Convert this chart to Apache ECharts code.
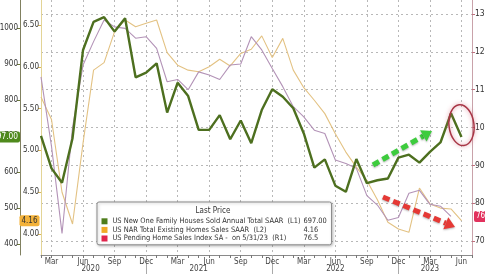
<!DOCTYPE html>
<html><head><meta charset="utf-8">
<script src="https://cdn.jsdelivr.net/npm/echarts@6/dist/echarts.min.js"></script>
<style>html,body{margin:0;padding:0;background:#fff}#c{width:485px;height:274px}</style>
</head><body><div id="c"></div>
<script>
const months = [
 'Feb 2020','Mar 2020','Apr 2020','May 2020','Jun 2020','Jul 2020','Aug 2020','Sep 2020','Oct 2020','Nov 2020','Dec 2020',
 'Jan 2021','Feb 2021','Mar 2021','Apr 2021','May 2021','Jun 2021','Jul 2021','Aug 2021','Sep 2021','Oct 2021','Nov 2021','Dec 2021',
 'Jan 2022','Feb 2022','Mar 2022','Apr 2022','May 2022','Jun 2022','Jul 2022','Aug 2022','Sep 2022','Oct 2022','Nov 2022','Dec 2022',
 'Jan 2023','Feb 2023','Mar 2023','Apr 2023','May 2023','Jun 2023','Jul 2023'];
const newHomes = [700,610,570,694,939,1017,1030,990,1027,863,876,902,765,848,811,717,717,758,691,743,680,772,830,809,777,707,612,635,562,545,636,569,577,582,640,648,626,656,682,763,697];
const existingHomes = [5.64,5.37,4.50,4.12,5.09,5.96,6.05,6.42,6.56,6.48,6.52,6.56,6.17,6.02,5.96,5.94,6.00,6.09,6.01,6.16,6.21,6.37,6.11,6.34,5.96,5.75,5.60,5.44,5.20,4.98,4.80,4.64,4.41,4.14,4.06,4.02,4.55,4.36,4.31,4.30,4.16];
const pendingHomes = [113.4,95,72,100,116.5,122.7,128.4,126.6,126.2,123.6,124.0,120.9,112.1,112.7,110.0,114.7,113.9,112.7,116.5,116.8,124.0,120.5,115.6,110.8,105.5,102.8,99.3,98.4,91.4,90.5,89.2,82,79.5,75.5,76.2,82.6,83.4,79.7,79.2,76.5];
const l1Ticks = [400,500,600,700,800,900,1000];
const l2Ticks = [4.0,4.5,5.0,5.5,6.0,6.5];
const r1Ticks = [70,80,90,100,110,120,130];
const quarterMonths = ['Mar','Jun','Sep','Dec'];
const yearLabels = {'Jul 2020':'2020','May 2021':'2021','Jun 2022':'2022','Mar 2023':'2023'};
const seriesNames = ['US New One Family Houses Sold Annual Total SAAR  (L1)','US NAR Total Existing Homes Sales SAAR  (L2)','US Pending Home Sales Index SA -  on 5/31/23  (R1)'];
const lastValues = ['697.00','4.16','76.5'];
const legendTitle = 'Last Price';

const FONT = '"Liberation Sans Narrow","DejaVu Sans Condensed","Liberation Sans",Arial,sans-serif';
const chart = echarts.init(document.getElementById('c'), null, {renderer:'canvas'});
const isQuarter = (i, v) => quarterMonths.indexOf(String(v).slice(0,3)) >= 0;
const isDec = (i, v) => String(v).slice(0,3) === 'Dec';
const dotted = {color:'#b8b8b8', width:1, type:[2,3]};

const option = {
  animation:false,
  backgroundColor:'#fff',
  textStyle:{fontFamily:FONT},
  grid:{left:41, right:13, top:0, bottom:19, outerBoundsMode:'none', containLabel:false},
  xAxis:[{
    type:'category', data:months, boundaryGap:false, position:'bottom',
    axisLine:{show:true, lineStyle:{color:'#8a8a8a', width:1}},
    axisTick:{show:true, interval:0, length:3, lineStyle:{color:'#777'}},
    axisLabel:{interval:isQuarter, formatter:v=>v.slice(0,3), fontSize:8, color:'#444', margin:3, fontFamily:FONT},
    splitLine:{show:true, interval:isQuarter, lineStyle:dotted}
  },{
    type:'category', data:months, boundaryGap:false, position:'bottom',
    axisLine:{show:false},
    axisTick:{show:true, interval:isDec, length:19, lineStyle:{color:'#aaa'}},
    axisLabel:{interval:(i,v)=>yearLabels[v]!==undefined, formatter:v=>v==='Jul 2020'?'{s|'+yearLabels[v]+'}':yearLabels[v],
      rich:{s:{padding:[0,6,0,0], fontSize:8, color:'#444', fontFamily:FONT}},
      fontSize:8, color:'#444', margin:10, fontFamily:FONT},
    splitLine:{show:false}
  }],
  yAxis:[{
    type:'value', position:'left', offset:21, min:369.4, max:1077.8,
    axisLine:{show:true, lineStyle:{color:'#808060'}},
    axisTick:{show:true, customValues:l1Ticks, length:3, lineStyle:{color:'#6d7a3a'}},
    axisLabel:{customValues:l1Ticks, formatter:v=>String(Math.round(v)), fontSize:8, color:'#333', margin:2, fontFamily:FONT},
    splitLine:{show:false}
  },{
    type:'value', position:'left', offset:0, min:3.749, max:6.799,
    axisLine:{show:true, lineStyle:{color:'#e3d496'}},
    axisTick:{show:true, customValues:l2Ticks, length:3, lineStyle:{color:'#d9b75a'}},
    axisLabel:{customValues:l2Ticks, formatter:v=>Number(v).toFixed(2), fontSize:8, color:'#333', margin:2, fontFamily:FONT},
    splitLine:{show:false}
  },{
    type:'value', position:'right', offset:0, min:66.3, max:133.7,
    axisLine:{show:true, lineStyle:{color:'#c9a2aa'}},
    axisTick:{show:true, customValues:r1Ticks, length:3, lineStyle:{color:'#c0707e'}},
    axisLabel:{customValues:r1Ticks, fontSize:8.5, color:'#333', margin:3, fontFamily:FONT},
    splitLine:{show:true, lineStyle:dotted}
  }],
  legend:{
    show:true, orient:'vertical', left:97, top:202, padding:[15,4,2,4.5],
    itemWidth:6, itemHeight:6, itemGap:0, icon:'rect', selectedMode:false,
    backgroundColor:'#fff', borderColor:'#8c8c8c', borderWidth:1, borderRadius:2,
    shadowBlur:3, shadowColor:'rgba(0,0,0,0.25)', shadowOffsetX:1, shadowOffsetY:1,
    data:[
      {name:seriesNames[0], itemStyle:{color:'#4e7d1c', borderWidth:0}},
      {name:seriesNames[1], itemStyle:{color:'#f1aa27', borderWidth:0}},
      {name:seriesNames[2], itemStyle:{color:'#e0244c', borderWidth:0}}
    ],
    formatter:name=>'{n|'+name+'}{v|'+lastValues[seriesNames.indexOf(name)]+'}',
    textStyle:{fontSize:7.4, color:'#333', fontFamily:FONT, lineHeight:8.6,
      rich:{n:{width:191, fontSize:7.4, color:'#333', fontFamily:FONT, lineHeight:8.6},
            v:{width:24, fontSize:7.4, color:'#333', fontFamily:FONT, lineHeight:8.6}}}
  },
  series:[
    {name:seriesNames[1], type:'line', xAxisIndex:0, yAxisIndex:1, data:existingHomes, showSymbol:false, symbol:'none',
     lineStyle:{color:'#e3c283', width:1.1}, itemStyle:{color:'#f1aa27'}, z:2},
    {name:seriesNames[2], type:'line', xAxisIndex:0, yAxisIndex:2, data:pendingHomes, showSymbol:false, symbol:'none',
     lineStyle:{color:'#b393b7', width:1.1}, itemStyle:{color:'#e0244c'}, z:3},
    {name:seriesNames[0], type:'line', xAxisIndex:0, yAxisIndex:0, data:newHomes, showSymbol:false, symbol:'none',
     lineStyle:{color:'#4d6f1f', width:2.4}, itemStyle:{color:'#4e7d1c'}, z:4}
  ]
};
chart.setOption(option);

function arrow(x1,y1,x2,y2,color){
  const dx=x2-x1, dy=y2-y1, L=Math.sqrt(dx*dx+dy*dy), ux=dx/L, uy=dy/L;
  const hl=10, hw=6.5;
  const bx=x2-ux*hl, by=y2-uy*hl;
  return [
    {type:'line', z:50, shape:{x1:x1,y1:y1,x2:bx,y2:by},
     style:{stroke:color, lineWidth:5, lineDash:[7,4], shadowBlur:2, shadowColor:'rgba(0,0,0,0.3)', shadowOffsetY:1}},
    {type:'polygon', z:50, shape:{points:[[x2,y2],[bx-uy*hw,by+ux*hw],[bx+uy*hw,by-ux*hw]]},
     style:{fill:color, shadowBlur:2, shadowColor:'rgba(0,0,0,0.3)', shadowOffsetY:1}}
  ];
}
const yG = chart.convertToPixel({yAxisIndex:0}, newHomes[newHomes.length-1]);
const yT = chart.convertToPixel({yAxisIndex:1}, existingHomes[existingHomes.length-1]);
const yR = chart.convertToPixel({yAxisIndex:2}, pendingHomes[pendingHomes.length-1]);
const peak = chart.convertToPixel({xAxisIndex:0, yAxisIndex:0}, [39.5, 730]);
const badge = (x,y,txt,bg,fg,align,fs)=>({type:'text', z:60, x:x, y:y,
  style:{text:txt, align:align, verticalAlign:'middle', fill:fg, backgroundColor:bg, padding:[2,2,1,2], borderRadius:2,
  font:fs+'px '+FONT}});
chart.setOption({graphic:[
  {type:'text', z:70, x:213, y:211, style:{text:legendTitle, align:'center', verticalAlign:'middle', fill:'#333', font:'8px '+FONT}},
  badge(20, yG, lastValues[0], '#4f8a1c', '#fff', 'right', 8.3),
  badge(39.5, yT, lastValues[1], '#f3b23a', '#333', 'right', 8),
  badge(474, yR, lastValues[2], '#e2325d', '#fff', 'left', 8),
  ...arrow(373,165,432,131,'#3dcc3d'),
  ...arrow(383,197,455,227,'#e53935'),
  {type:'ellipse', z:55, x:peak[0], y:peak[1], rotation:0.12, shape:{cx:0, cy:0, rx:12.5, ry:20.5},
   style:{fill:'none', stroke:'#a83646', lineWidth:1.5, shadowBlur:4, shadowColor:'rgba(210,90,110,0.7)'}}
]});
</script></body></html>
